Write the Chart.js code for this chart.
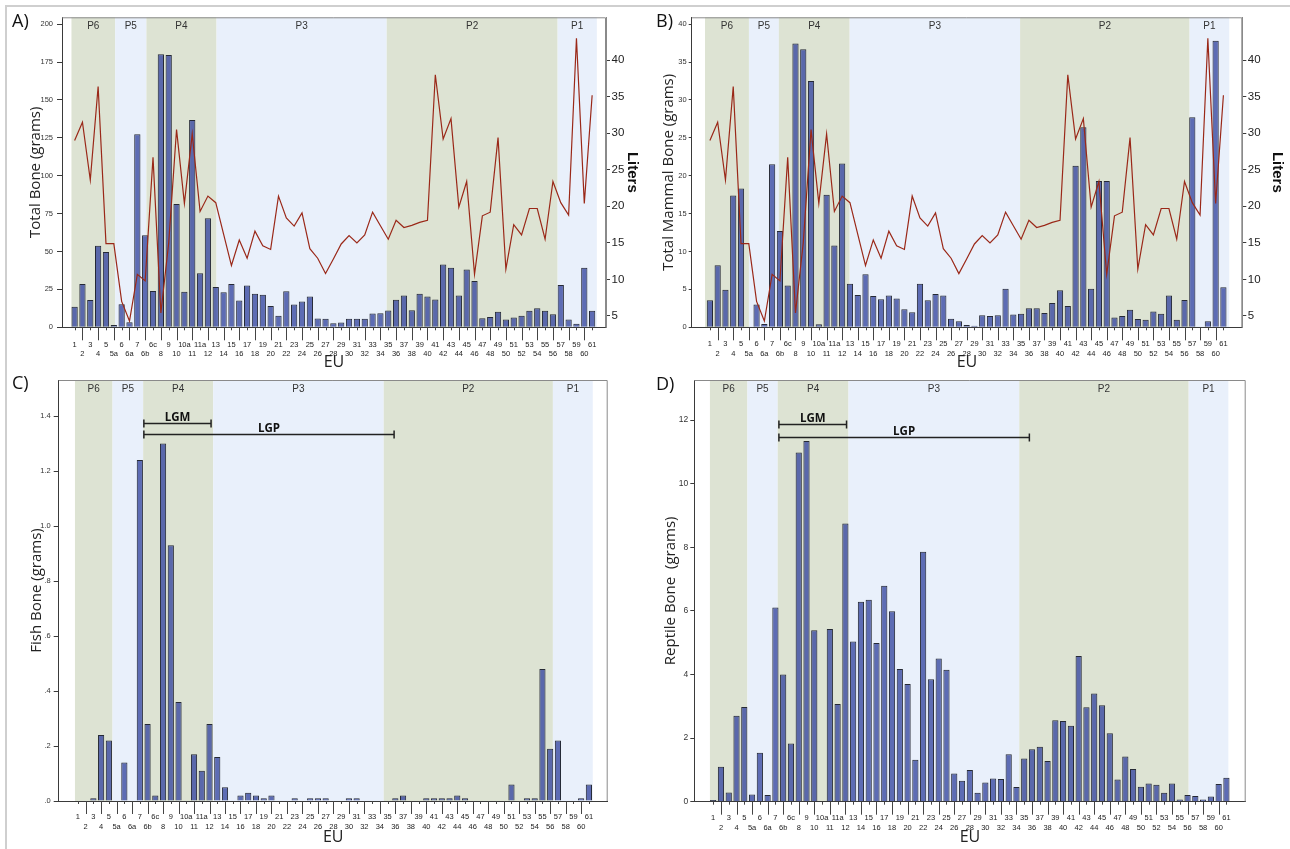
<!DOCTYPE html>
<html>
<head>
<meta charset="utf-8">
<script src="https://cdn.jsdelivr.net/npm/chart.js@4.4.1/dist/chart.umd.min.js"></script>
<style>
  body { margin: 0; background: #fff; }
  #fig { position: relative; width: 1290px; height: 849px; overflow: hidden; }
  #frame { position: absolute; left: 5px; top: 5px; width: 1300px; height: 900px;
           border-left: 2px solid #cfcfcf; border-top: 2px solid #cfcfcf; }
  #fig canvas { position: absolute; }
</style>
</head>
<body>
<div id="fig">
  <div id="frame"></div>
  <canvas id="chartA" width="645" height="372" style="left:0;top:0"></canvas>
  <canvas id="chartB" width="645" height="372" style="left:645px;top:0"></canvas>
  <canvas id="chartC" width="645" height="477" style="left:0;top:372px"></canvas>
  <canvas id="chartD" width="645" height="477" style="left:645px;top:372px"></canvas>
</div>
<script>
// Excavation units, in stratigraphic order
const euLabels = ['1','2','3','4','5','5a','6','6a','7','6b','6c','8','9','10','10a','11','11a','12',
  '13','14','15','16','17','18','19','20','21','22','23','24','25','26','27','28','29','30',
  '31','32','33','34','35','36','37','38','39','40','41','42','43','44','45','46','47','48',
  '49','50','51','52','53','54','55','56','57','58','59','60','61'];

// Weight of bone per unit (grams)
const totalBone = [13.5, 28.5, 18, 53.8, 49.7, 1.5, 15.2, 3.3, 127.3, 60.7, 24, 180.2, 179.6, 81.3, 23.5, 136.7, 35.6, 71.9,
  26.6, 23.1, 28.6, 17.6, 27.5, 22.2, 21.5, 14.1, 7.7, 23.7, 15, 17.1, 20.4, 5.8, 5.6, 2.6, 3.2, 5.6,
  5.6, 5.6, 9.1, 9.2, 11.1, 18.1, 21, 11.3, 22.1, 20.4, 18.4, 41.5, 39.3, 20.9, 38.2, 30.5, 5.9, 6.8,
  10.3, 5.1, 6.4, 7.7, 11, 12.5, 11, 8.6, 27.9, 5.1, 2.4, 39.3, 11];
const mammalBone = [3.56, 8.18, 4.97, 17.4, 18.3, 0, 3.0, 0.44, 21.5, 12.7, 5.5, 37.45, 36.7, 32.5, 0.4, 17.5, 10.8, 21.6,
  5.76, 4.26, 7.0, 4.13, 3.7, 4.2, 3.8, 2.37, 2.0, 5.76, 3.56, 4.4, 4.2, 1.14, 0.8, 0.3, 0.2, 1.6,
  1.5, 1.6, 5.1, 1.7, 1.8, 2.5, 2.5, 1.9, 3.2, 4.9, 2.8, 21.3, 26.4, 5.1, 19.3, 19.3, 1.3, 1.5,
  2.3, 1.1, 1.0, 2.1, 1.8, 4.2, 1.0, 3.6, 27.7, 0, 0.8, 37.8, 5.3];
const fishBone = [0, 0, 0.01, 0.24, 0.22, 0, 0.14, 0, 1.24, 0.28, 0.02, 1.30, 0.93, 0.36, 0, 0.17, 0.11, 0.28,
  0.16, 0.05, 0, 0.02, 0.03, 0.02, 0.01, 0.02, 0, 0, 0.01, 0, 0.01, 0.01, 0.01, 0, 0, 0.01,
  0.01, 0, 0, 0, 0, 0.01, 0.02, 0, 0, 0.01, 0.01, 0.01, 0.01, 0.02, 0.01, 0, 0, 0,
  0, 0, 0.06, 0, 0.01, 0.01, 0.48, 0.19, 0.22, 0, 0, 0.01, 0.06];
const reptileBone = [0.05, 1.10, 0.29, 2.70, 2.98, 0.23, 1.54, 0.21, 6.11, 4.0, 1.83, 10.98, 11.34, 5.39, 0, 5.43, 3.07, 8.75,
  5.04, 6.29, 6.35, 4.99, 6.79, 5.99, 4.17, 3.70, 1.32, 7.86, 3.85, 4.50, 4.15, 0.89, 0.66, 1.0, 0.28, 0.60,
  0.73, 0.71, 1.49, 0.46, 1.36, 1.65, 1.73, 1.28, 2.56, 2.54, 2.39, 4.58, 2.97, 3.40, 3.03, 2.15, 0.70, 1.42,
  1.03, 0.47, 0.57, 0.53, 0.28, 0.57, 0.07, 0.21, 0.18, 0.07, 0.16, 0.56, 0.75];

// Sediment volume per unit (liters)
const liters = [29.0, 31.5, 23.6, 36.4, 14.9, 14.9, 7.0, 4.3, 10.7, 9.8, 26.7, 5.4, 15.0, 30.5, 20.4, 29.9, 19.3, 21.4,
  20.5, 16.2, 11.9, 15.4, 12.9, 16.6, 14.6, 14.1, 21.4, 18.4, 17.3, 19.1, 14.2, 12.9, 10.8, 12.8, 14.85, 16.0,
  15.0, 16.1, 19.2, 17.35, 15.5, 18.1, 17.1, 17.4, 17.8, 18.1, 38.0, 29.2, 32.0, 19.9, 23.4, 10.7, 18.7, 19.2,
  29.4, 11.4, 17.5, 16.1, 19.7, 19.7, 15.5, 23.4, 20.5, 18.8, 43.0, 20.4, 35.2];

// Phases, and their limits on the unit axis (each panel was drawn separately)
const phaseNames = ['P6', 'P5', 'P4', 'P3', 'P2', 'P1'];
const phaseEdgesA = [-0.4, 5.17, 9.16, 18.1, 39.8, 61.6, 66.6];
const phaseEdgesB = [-0.63, 5.02, 8.86, 17.97, 39.87, 61.65, 66.75];
const phaseEdgesC = [-0.38, 4.47, 8.43, 17.47, 39.5, 61.35, 66.5];
const phaseEdgesD = [-0.42, 4.4, 8.3, 17.4, 39.36, 61.15, 66.25];

// LGM / LGP spans: [from unit index, to unit index, height on value axis]
const lgmC = [8.52, 17.2, 1.376];
const lgpC = [8.52, 40.84, 1.333];
const lgmD = [8.45, 17.15, 11.87];
const lgpD = [8.45, 40.66, 11.48];

// Tick values
const ticksA = [0, 25, 50, 75, 100, 125, 150, 175, 200];
const ticksB = [0, 5, 10, 15, 20, 25, 30, 35, 40];
const ticksC = [0, 0.2, 0.4, 0.6, 0.8, 1.0, 1.2, 1.4];
const ticksD = [0, 2, 4, 6, 8, 10, 12];
const ticksLiters = [5, 10, 15, 20, 25, 30, 35, 40];

const bandGreen = '#dde3d3';
const bandBlue = '#e9f0fb';
const barFill = 'rgba(48, 66, 158, 0.76)';
const barEdge = '#262a36';
const lineRed = '#9a2818';
const axisColor = '#3a3a3a';
const titleFamily = "'Open Sans', 'Liberation Sans', sans-serif";

Chart.defaults.font.family = "'Liberation Sans', Arial, sans-serif";
Chart.defaults.color = '#222';

const toPoints = vals => vals.map((v, i) => ({ x: i, y: v }));

// bands, frame, phase names, staggered separators, brackets
const decorPlugin = {
  id: 'decor',
  beforeDraw(chart, args, o) {
    const { ctx, chartArea: a, scales: { x } } = chart;
    ctx.save();
    for (let i = 0; i < phaseNames.length; i++) {
      const x0 = x.getPixelForValue(o.edges[i]);
      const x1 = x.getPixelForValue(o.edges[i + 1]);
      ctx.fillStyle = i % 2 === 0 ? bandGreen : bandBlue;
      ctx.fillRect(x0, a.top, x1 - x0, a.bottom - a.top);
    }
    ctx.restore();
  },
  afterDraw(chart, args, o) {
    const { ctx, chartArea: a, scales: { x, y } } = chart;
    ctx.save();
    // top and right frame
    ctx.strokeStyle = '#8a8a8a';
    ctx.lineWidth = 1;
    ctx.beginPath();
    ctx.moveTo(a.left, a.top + 0.5);
    ctx.lineTo(a.right - 0.5, a.top + 0.5);
    ctx.lineTo(a.right - 0.5, a.bottom);
    ctx.stroke();

    // phase names
    ctx.fillStyle = '#333';
    ctx.font = "10px 'Liberation Sans', Arial, sans-serif";
    ctx.textAlign = 'center';
    ctx.textBaseline = 'middle';
    phaseNames.forEach((p, i) => {
      const cx = (x.getPixelForValue(o.edges[i]) + x.getPixelForValue(o.edges[i + 1])) / 2;
      ctx.fillText(p, cx, a.top + 9);
    });

    // staggered label separators
    ctx.strokeStyle = '#444';
    ctx.beginPath();
    euLabels.forEach((lab, i) => {
      const px = Math.round(x.getPixelForValue(i)) + 0.5;
      ctx.moveTo(px, a.bottom);
      ctx.lineTo(px, a.bottom + (i % 2 === 0 ? 3 : 13));
    });
    ctx.stroke();

    // LGM / LGP brackets
    (o.brackets || []).forEach(b => {
      const x0 = x.getPixelForValue(b.span[0]);
      const x1 = x.getPixelForValue(b.span[1]);
      const py = Math.round(y.getPixelForValue(b.span[2])) + 0.5;
      ctx.strokeStyle = '#222';
      ctx.lineWidth = 1.5;
      ctx.beginPath();
      ctx.moveTo(x0, py); ctx.lineTo(x1, py);
      ctx.moveTo(x0, py - 4); ctx.lineTo(x0, py + 4);
      ctx.moveTo(x1, py - 4); ctx.lineTo(x1, py + 4);
      ctx.stroke();
      ctx.fillStyle = '#111';
      ctx.font = "bold 11.5px 'Open Sans', sans-serif";
      ctx.fillText(b.label, (x0 + x1) / 2, py - 6);
    });

    // panel letter
    ctx.fillStyle = '#111';
    ctx.font = "18px " + titleFamily;
    ctx.textAlign = 'left';
    ctx.fillText(o.letter, o.letterAt[0], o.letterAt[1]);
    ctx.restore();
  }
};

function makePanel(id, p) {
  const canvas = document.getElementById(id);
  const W = canvas.width, H = canvas.height;
  const [L, T, R, B] = p.area;

  const scales = {
    x: {
      type: 'linear', bounds: 'data', min: p.xRange[0], max: p.xRange[1],
      grid: { display: false },
      border: { color: axisColor },
      afterBuildTicks: axis => { axis.ticks = euLabels.map((_, i) => ({ value: i })); },
      afterFit: s => { s.height = H - B; },
      ticks: {
        autoSkip: false, maxRotation: 0, minRotation: 0, padding: p.xPad,
        font: { size: 7.5, lineHeight: '9.5px' }, color: '#222',
        callback: v => (v % 2 === 0 ? euLabels[v] : ['', euLabels[v]])
      },
      title: { display: true, text: 'EU', color: '#222', font: { family: titleFamily, size: 16 },
               padding: { top: 0, bottom: p.euPad } }
    },
    y: {
      type: 'linear', position: 'left', bounds: 'data', min: 0, max: p.yMax,
      grid: { drawOnChartArea: false, tickLength: p.yTick, color: axisColor },
      border: { color: axisColor },
      afterBuildTicks: axis => { axis.ticks = p.yTicks.map(v => ({ value: v })); },
      afterFit: s => { s.width = L; },
      ticks: { padding: p.yLabPad, font: { size: p.yFont }, color: '#333', callback: p.yFormat || (v => v) },
      title: { display: true, text: p.yTitle, color: '#222', font: { family: titleFamily, size: 15 },
               padding: p.yTitlePad }
    }
  };

  const datasets = [{
    type: 'bar', data: toPoints(p.values), yAxisID: 'y', order: 1,
    backgroundColor: barFill, borderColor: barEdge, borderWidth: 1, borderSkipped: 'start',
    barPercentage: 0.8, categoryPercentage: 1
  }];

  if (p.withLiters) {
    scales.y2 = {
      type: 'linear', position: 'right', bounds: 'data', min: 3.45, max: 45.86,
      grid: { drawOnChartArea: false, tickLength: 4, color: axisColor },
      border: { color: '#8a8a8a' },
      afterBuildTicks: axis => { axis.ticks = ticksLiters.map(v => ({ value: v })); },
      afterFit: s => { s.width = W - R; },
      ticks: { padding: 1.5, font: { size: 11.5 }, color: '#222' },
      title: { display: true, text: 'Liters', color: '#111',
               font: { family: "'Liberation Sans', Arial, sans-serif", size: 15, weight: 'bold' }, padding: 4 }
    };
    datasets.push({
      type: 'line', data: toPoints(liters), yAxisID: 'y2', order: 0,
      borderColor: lineRed, borderWidth: 1.2, pointRadius: 0, tension: 0, fill: false
    });
  }

  return new Chart(canvas, {
    type: 'bar',
    data: { datasets },
    options: {
      responsive: false, animation: false, events: [],
      layout: { padding: { left: 0, top: T, right: p.withLiters ? 0 : W - R, bottom: 0 } },
      scales,
      plugins: {
        legend: { display: false },
        tooltip: { enabled: false },
        decor: { edges: p.edges, letter: p.letter, letterAt: p.letterAt, brackets: p.brackets }
      }
    },
    plugins: [decorPlugin]
  });
}

makePanel('chartA', {
  area: [62, 17.3, 606, 327.3], xRange: [-1.09, 67.25], xPad: 4.5, euPad: 0,
  values: totalBone, yMax: 204.5, yTicks: ticksA, yTick: 5, yLabPad: 4, yFont: 7.5,
  yTitle: 'Total Bone (grams)', yTitlePad: 27, withLiters: true,
  edges: phaseEdgesA, letter: 'A)', letterAt: [12, 22]
});

makePanel('chartB', {
  area: [46.7, 17.3, 597.3, 327.3], xRange: [-1.81, 67.9], xPad: 4, euPad: 0,
  values: mammalBone, yMax: 40.9, yTicks: ticksB, yTick: 3, yLabPad: 2, yFont: 7.5,
  yTitle: 'Total Mammal Bone (grams)', yTitlePad: 15, withLiters: true,
  edges: phaseEdgesB, letter: 'B)', letterAt: [11, 22]
});

makePanel('chartC', {
  area: [58.7, 8, 607.7, 429], xRange: [-1.95, 67.9], xPad: 3.5, euPad: 2.2,
  values: fishBone, yMax: 1.531, yTicks: ticksC, yTick: 5, yLabPad: 3, yFont: 7.5,
  yFormat: v => (v < 1 ? v.toFixed(1).replace(/^0/, '') : v.toFixed(1)),
  yTitle: 'Fish Bone (grams)', yTitlePad: 27.5, withLiters: false,
  edges: phaseEdgesC, letter: 'C)', letterAt: [12, 12],
  brackets: [{ label: 'LGM', span: lgmC }, { label: 'LGP', span: lgpC }]
});

makePanel('chartD', {
  area: [49.3, 8, 600.7, 429.7], xRange: [-1.9, 67.95], xPad: 3.5, euPad: 2.2,
  values: reptileBone, yMax: 13.26, yTicks: ticksD, yTick: 4, yLabPad: 2, yFont: 8.5,
  yTitle: 'Reptile Bone  (grams)', yTitlePad: 16.5, withLiters: false,
  edges: phaseEdgesD, letter: 'D)', letterAt: [11, 13],
  brackets: [{ label: 'LGM', span: lgmD }, { label: 'LGP', span: lgpD }]
});
</script>
</body>
</html>
